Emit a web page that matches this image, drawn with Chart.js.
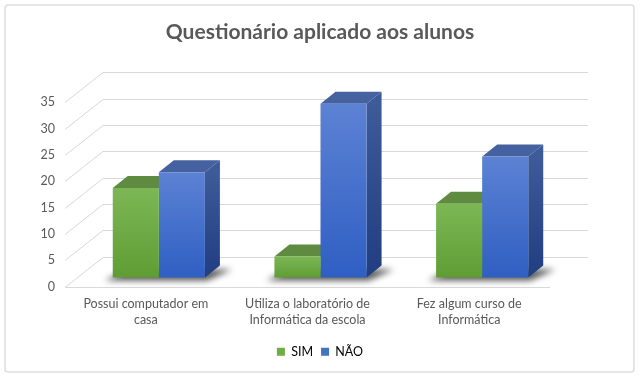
<!DOCTYPE html>
<html>
<head>
<meta charset="utf-8">
<script src="https://cdn.jsdelivr.net/npm/chart.js@4"></script>
<style>
  html, body { margin: 0; padding: 0; background: #fff; }
  #wrap { width: 640px; height: 376px; }
</style>
</head>
<body>
<div id="wrap"><canvas id="chart" width="640" height="376"></canvas></div>
<script>
// Ma'lumotlar
const categories = [
  ['Possui computador em', 'casa'],
  ['Utiliza o laboratório de', 'Informática da escola'],
  ['Fez algum curso de', 'Informática']
];
const seriesNames = ['SIM', 'NÃO'];
const simValues = [17, 4, 14];
const naoValues = [20, 33, 23];
const yMin = 0, yMax = 35, yStep = 5;

// 3D ko'rinish sozlamalari
const WALL = { dx: 38, dy: -30 };   // orqa devor siljishi
const PLANE = { dx: 13, dy: -9 };   // ustunlar tekisligi
const DEPTH = { dx: 15, dy: -12 };  // ustun chuqurligi

const palette = {
  sim: { front: ['#7cb755', '#5f9d34'], side: ['#55843a', '#3f6e25'], top: '#5e8b3f', legend: '#70ad47' },
  nao: { front: ['#5c82d3', '#2f5fc3'], side: ['#3d5a99', '#203e80'], top: '#46619f', legend: '#4472c4' }
};
const styles = [palette.sim, palette.nao];

function frontFill(ctx) {
  const chart = ctx.chart;
  const st = styles[ctx.datasetIndex];
  if (!chart.chartArea || ctx.raw === undefined) return st.legend;
  const y = chart.scales.y;
  const top = y.getPixelForValue(ctx.raw), bot = y.getPixelForValue(0);
  const g = chart.ctx.createLinearGradient(0, top, 0, bot);
  g.addColorStop(0, st.front[0]);
  g.addColorStop(1, st.front[1]);
  return g;
}

const threeD = {
  id: 'threeD',
  beforeDraw(chart) {
    const c = chart.ctx;
    c.save();
    c.fillStyle = '#fff';
    c.fillRect(0, 0, chart.width, chart.height);
    c.strokeStyle = '#dedede';
    c.lineWidth = 1.5;
    c.beginPath();
    c.roundRect(5, 5, 629, 367, 3);
    c.stroke();
    c.restore();
  },
  beforeDatasetsDraw(chart) {
    const c = chart.ctx;
    const a = chart.chartArea;
    const y = chart.scales.y;
    c.save();
    c.strokeStyle = '#d9d9d9';
    c.lineWidth = 1;
    y.ticks.forEach(t => {
      const py = Math.round(y.getPixelForValue(t.value)) + 0.5;
      c.beginPath();
      c.moveTo(a.left, py);
      c.lineTo(a.left + WALL.dx, py + WALL.dy);
      c.lineTo(a.right + WALL.dx, py + WALL.dy);
      c.stroke();
    });
    // old pol chizig'i
    const p0 = Math.round(y.getPixelForValue(0)) + 0.5;
    c.beginPath();
    c.moveTo(a.left, p0);
    c.lineTo(a.right, p0);
    c.stroke();
    c.restore();

    c.save();
    c.translate(PLANE.dx, PLANE.dy);
    const m0 = chart.getDatasetMeta(0).data;
    const m1 = chart.getDatasetMeta(1).data;
    // soyalar
    c.save();
    c.filter = 'blur(3px)';
    c.fillStyle = 'rgba(30,30,30,0.75)';
    m0.forEach((b0, i) => {
      const b1 = m1[i];
      const xl = b0.x - b0.width / 2, xr = b1.x + b1.width / 2, base = b0.base;
      c.beginPath();
      c.moveTo(xl - 8, base + 3);
      c.lineTo(xr + 2, base + 3);
      c.lineTo(xr + DEPTH.dx + 12, base + DEPTH.dy + 4);
      c.lineTo(xl + DEPTH.dx, base + DEPTH.dy + 4);
      c.closePath();
      c.fill();
    });
    c.restore();
    // yon va ust yuzalar
    [m0, m1].forEach((els, di) => {
      const st = styles[di];
      els.forEach(b => {
        const l = b.x - b.width / 2, r = b.x + b.width / 2;
        const g = c.createLinearGradient(0, b.y, 0, b.base);
        g.addColorStop(0, st.side[0]);
        g.addColorStop(1, st.side[1]);
        c.fillStyle = g;
        c.beginPath();
        c.moveTo(r, b.y);
        c.lineTo(r + DEPTH.dx, b.y + DEPTH.dy);
        c.lineTo(r + DEPTH.dx, b.base + DEPTH.dy);
        c.lineTo(r, b.base);
        c.closePath();
        c.fill();
        c.fillStyle = st.top;
        c.beginPath();
        c.moveTo(l, b.y);
        c.lineTo(r, b.y);
        c.lineTo(r + DEPTH.dx, b.y + DEPTH.dy);
        c.lineTo(l + DEPTH.dx, b.y + DEPTH.dy);
        c.closePath();
        c.fill();
      });
    });
  },
  afterDatasetsDraw(chart) {
    chart.ctx.restore();
  }
};

Chart.defaults.font.family = 'Lato, "Open Sans", sans-serif';
Chart.defaults.color = '#595959';
Chart.defaults.font.size = 12;

new Chart(document.getElementById('chart'), {
  type: 'bar',
  data: {
    labels: categories,
    datasets: [
      { label: seriesNames[0], data: simValues, backgroundColor: frontFill, borderWidth: 0, clip: false },
      { label: seriesNames[1], data: naoValues, backgroundColor: frontFill, borderWidth: 0, clip: false }
    ]
  },
  options: {
    responsive: false,
    animation: false,
    devicePixelRatio: 1,
    categoryPercentage: 0.57,
    barPercentage: 1,
    layout: { padding: { left: 0, right: 0, top: 0, bottom: 8 } },
    scales: {
      x: {
        grid: { display: false, drawTicks: false },
        border: { display: false },
        ticks: { maxRotation: 0, autoSkip: false, padding: 10, font: { size: 12.5, lineHeight: 1.25 } },
        afterFit(s) { s.height = 51; }
      },
      y: {
        min: yMin, max: yMax,
        grid: { display: false, drawTicks: false },
        border: { display: false },
        ticks: { stepSize: yStep, padding: 10, font: { size: 12.5 } },
        afterFit(s) { s.width = 65; }
      },
      // o'ng tomondagi bo'sh joy uchun
      yr: {
        position: 'right',
        grid: { display: false, drawTicks: false },
        border: { display: false },
        ticks: { display: false },
        afterFit(s) { s.width = 90; }
      }
    },
    plugins: {
      title: {
        display: true,
        text: 'Questionário aplicado aos alunos',
        color: '#595959',
        font: { size: 21, weight: 'bold' },
        padding: { top: 20, bottom: 57 }
      },
      legend: {
        position: 'bottom',
        labels: {
          boxWidth: 8, boxHeight: 8, padding: 8,
          font: { size: 12.5 },
          generateLabels: () => seriesNames.map((n, i) => ({
            text: n, fillStyle: styles[i].legend, strokeStyle: styles[i].legend, lineWidth: 0, datasetIndex: i
          }))
        }
      },
      tooltip: { enabled: false }
    }
  },
  plugins: [threeD]
});
</script>
</body>
</html>
